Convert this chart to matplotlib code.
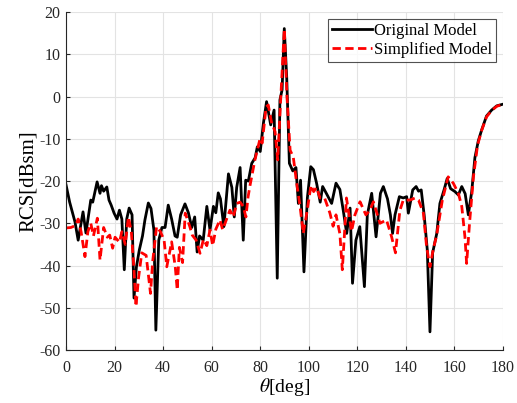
import numpy as np
import matplotlib
matplotlib.use("Agg")
import matplotlib.pyplot as plt

# RCS vs. observation angle, original vs. simplified geometry
theta_orig = [0, 1.5, 3.7, 5, 7, 8.2, 10.2, 11, 12.8, 14, 14.6, 15.5, 16.8, 17.7, 18.6, 19.8,
              21, 22, 23, 24, 25, 26, 27.2, 28, 29, 30.2, 31.5, 32.5, 33.9, 35, 36.2, 37,
              38.2, 39.5, 40.8, 42.1, 43.5, 44.9, 45.8, 47.2, 49, 50.4, 51.8, 53, 54, 55,
              56.5, 58, 59.3, 60.7, 61.7, 62.7, 63.6, 65, 66.9, 68.3, 69.3, 70.3, 71.7, 73,
              74, 75.1, 76.5, 77.9, 78.8, 80, 81.3, 82.6, 84.3, 85.7, 87, 88.1, 89, 89.9,
              90.9, 92, 93.4, 94.7, 95.7, 96.6, 98, 99.4, 100.8, 101.9, 103.2, 104.7, 105.7,
              107.3, 109.4, 111.2, 112.8, 114.2, 115.6, 117, 118, 119.4, 121, 122.9, 124.1,
              125.9, 127.7, 129.5, 130.7, 132.4, 133.6, 134.5, 135.5, 137.3, 138.9, 140.3,
              141, 142.8, 144.2, 145.2, 146.3, 147.5, 148.8, 149.9, 151, 152.7, 154, 155.7,
              157, 158.4, 160.2, 161.6, 163, 164.4, 165.7, 167.1, 168.4, 169.8, 171.2, 173.2,
              175.3, 177.4, 180]
rcs_orig = [-20.9, -25, -29.7, -34, -27.3, -32.3, -24.5, -25, -20.2, -22.9, -21.1, -22.4, -21.4,
            -24.5, -25.7, -27.6, -29, -26.9, -29, -41, -29, -26.4, -28, -47.7, -40.3, -36.3,
            -33, -29.2, -25.2, -26.5, -31.6, -55.3, -34, -31, -31, -25.7, -29, -33, -33.3, -28,
            -25.4, -27.5, -31, -28.5, -36.8, -33, -34, -26, -31.6, -26, -27.5, -22.8, -24.2,
            -30.8, -18.3, -21.5, -28.5, -21.5, -16.8, -34, -19.8, -20, -15.8, -14.5, -11.9,
            -13, -6.3, -1.2, -6.7, -3.2, -43, -0.8, 1.6, 16.1, 4.5, -15.8, -17.6, -16.8, -25.3,
            -19.8, -41.5, -24, -16.6, -17.3, -20.5, -25, -21.3, -23, -25.3, -20.5, -22, -27,
            -32.4, -26.4, -44.2, -34, -30.8, -45, -28, -22.9, -33.2, -22.9, -21.3, -24.2, -28,
            -32.4, -28, -23.7, -24, -23.7, -27.6, -22.1, -21.3, -22.4, -22.1, -28, -36.3,
            -55.7, -37, -32.4, -25.3, -22.1, -19.4, -21.8, -22.5, -23.3, -21.3, -23, -28,
            -22.5, -14.5, -10.5, -7.9, -4.6, -3.2, -2.2, -1.8]

theta_simp = [0, 2, 4, 5, 6.2, 7.8, 9, 10.2, 11.3, 12.9, 14, 15.5, 17, 18, 19.2, 20.2, 22, 23,
              24.4, 25.7, 26.9, 28, 28.8, 29.9, 31.2, 33, 34.8, 35.7, 37.3, 38.9, 40.4, 41.5,
              43.5, 45, 45.8, 46.7, 48, 49.1, 51, 52, 53.6, 55.2, 56.6, 58, 59.3, 60.4, 61.7,
              63.4, 64.5, 65.5, 67.5, 68.9, 70.3, 71.7, 73, 74.1, 75, 75.8, 77.8, 79.9, 80.8,
              82.4, 83.3, 84.6, 86.1, 87.2, 88.3, 89.9, 91, 92.3, 93.6, 95, 96.4, 97.7, 99.1,
              100.9, 102, 103.2, 104.6, 106.5, 108.7, 110, 111.2, 112.8, 113.8, 114.9, 115.5,
              117.6, 119, 121.1, 123.5, 125.2, 126.6, 129.3, 132, 134.1, 135.7, 137.5, 138.9,
              141.7, 143.8, 145.2, 147.2, 148.5, 149.9, 151.3, 152.6, 155, 157.4, 159.5, 161.6,
              163, 164.3, 165, 166.2, 167.8, 169.5, 171.2, 173.2, 175.3, 177.4, 180]
rcs_simp = [-31.1, -31, -30.5, -29, -32, -37.9, -32, -30, -33, -28.8, -38.7, -31, -33.3, -32.8,
            -35.9, -33.3, -34.5, -32, -35, -28.5, -32, -41, -49.7, -42.8, -37, -37.6, -46.6,
            -39, -30.8, -32, -34, -40.3, -34.4, -40.3, -45.8, -35.7, -39.3, -27.6, -30.8,
            -32.8, -34, -37.1, -33.8, -35.3, -31.6, -35.3, -31.4, -29.2, -31.5, -30, -26.9,
            -28.5, -25.3, -25, -26, -28.5, -23.7, -21, -15, -10, -11, -2.5, -2, -6, -8.3, -15,
            -2, 16, 0, -12.7, -14.3, -20.5, -26, -32.4, -27.8, -21, -22.5, -21.5, -24, -24,
            -27.6, -30.7, -28, -32.5, -41, -30.5, -24, -31.9, -28, -24.9, -28, -26.9, -24.9,
            -30, -29.2, -33.2, -37, -27, -24.5, -24.5, -24, -24.5, -27.6, -35.5, -40.3, -36,
            -33, -24.5, -19, -20.5, -22.9, -26, -33.2, -39.5, -30, -19, -11.5, -8, -4.8, -3.3,
            -2.3, -1.8]

xticks = np.arange(0, 181, 20)
yticks = np.arange(-60, 21, 10)

plt.rcParams["font.family"] = ["Liberation Serif", "DejaVu Serif"]
plt.rcParams["mathtext.fontset"] = "stix"
plt.rcParams["axes.unicode_minus"] = False

fig = plt.figure(figsize=(5.17, 4.03), dpi=100, facecolor="white")
ax = fig.add_axes([0.1277, 0.1315, 0.8453, 0.8385])

ax.plot(theta_orig, rcs_orig, color="black", lw=2.0, label="Original Model")
ax.plot(theta_simp, rcs_simp, color="red", lw=2.0, ls=(0, (3.0, 1.6)), label="Simplified Model")

ax.set_xlim(0, 180)
ax.set_ylim(-60, 20)
ax.set_xticks(xticks)
ax.set_yticks(yticks)
ax.grid(True, color="#e3e3e3", lw=0.8)
ax.set_axisbelow(True)
for side in ("top", "right"):
    ax.spines[side].set_visible(False)
for side in ("left", "bottom"):
    ax.spines[side].set_color("#262626")
    ax.spines[side].set_linewidth(0.8)
ax.tick_params(direction="in", length=3, labelsize=11.5, colors="#262626")
ax.tick_params(axis="x", pad=7)
ax.tick_params(axis="y", pad=4)

ax.set_xlabel(r"$\theta$[deg]", fontsize=14, labelpad=0)
ax.set_ylabel("RCS[dBsm]", fontsize=15, labelpad=1)

leg = ax.legend(loc="upper right", fontsize=12, frameon=True, fancybox=False,
                edgecolor="#262626", handlelength=2.4, handletextpad=0.1,
                borderpad=0.25, labelspacing=0.2, borderaxespad=0.4)
leg.get_frame().set_linewidth(0.8)

fig.savefig("out.png", dpi=100, facecolor="white")
